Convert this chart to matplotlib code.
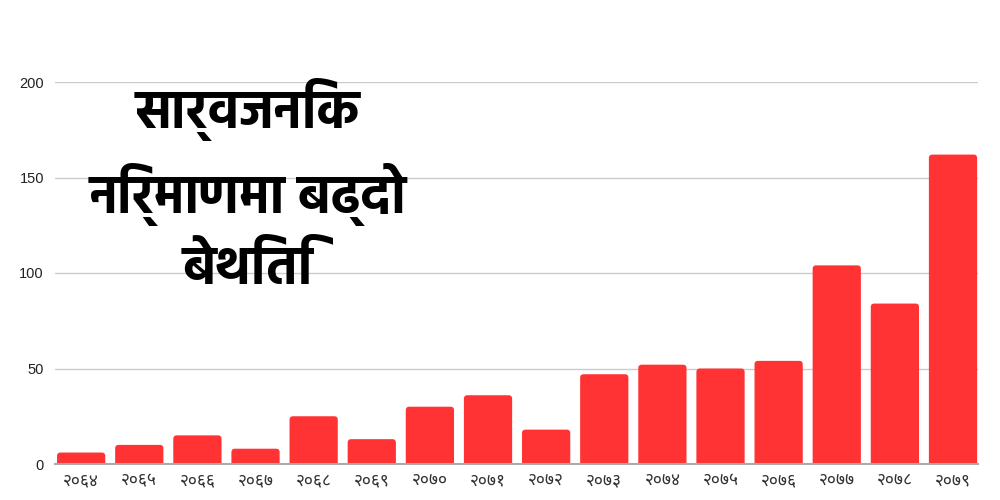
import matplotlib
matplotlib.use("Agg")
import matplotlib.pyplot as plt
from matplotlib import font_manager
from matplotlib.ft2font import FT2Font
from matplotlib.patches import FancyBboxPatch

years = ["२०६४", "२०६५", "२०६६", "२०६७", "२०६८", "२०६९", "२०७०", "२०७१",
         "२०७२", "२०७३", "२०७४", "२०७५", "२०७६", "२०७७", "२०७८", "२०७९"]
values = [6, 10, 15, 8, 25, 13, 30, 36, 18, 47, 52, 50, 54, 104, 84, 162]
yticks = [0, 50, 100, 150, 200]
title = "सार्वजनिक\nनिर्माणमा बढ्दो\nबेथिति"

# families that cover Devanagari
deva = set()
for f in font_manager.fontManager.ttflist:
    try:
        cm = FT2Font(f.fname).get_charmap()
    except Exception:
        continue
    if 0x0938 in cm and 0x096A in cm:
        deva.add(f.name)

def pick(pref):
    c = [p for p in pref if p in deva][:1] or sorted(deva)[:1]
    return c + ["Liberation Sans", "DejaVu Sans"]

title_fams = pick(["Hind", "Poppins", "Mukta", "Noto Sans Devanagari", "Martel Sans",
                   "Biryani", "Amiko", "FreeSans"])
tick_fams = pick(["Noto Sans Devanagari", "Mukta", "Annapurna SIL", "Biryani",
                  "Amiko", "FreeSans"])

fig = plt.figure(figsize=(10, 5), dpi=100)
ax = fig.add_axes([0.055, 0.072, 0.923, 0.764])
x = list(range(len(years)))
bars = ax.bar(x, values, width=0.83, color="#ff3333", zorder=2)
ax.set_xlim(-0.45, 15.43)
ax.set_ylim(0, 200)

# rounded tops: replace each bar by a rounded box of the same geometry
fig.canvas.draw()
bb = ax.get_window_extent()
aspect = (200 / bb.height) / ((15.88) / bb.width)
for b in bars:
    x0, w, h = b.get_x(), b.get_width(), b.get_height()
    b.set_visible(False)
    p = FancyBboxPatch((x0, -6), w, h + 6,
                       boxstyle="round,pad=0,rounding_size=0.06",
                       mutation_aspect=aspect, facecolor="#ff3333",
                       edgecolor="none", zorder=2, clip_on=True)
    ax.add_patch(p)

ax.set_yticks(yticks)
ax.set_yticklabels([str(v) for v in yticks], family=["Liberation Sans", "DejaVu Sans"],
                   fontsize=10.5, color="#222222")
ax.set_xticks(x)
ax.set_xticklabels(years, family=tick_fams, fontsize=12.5, color="#333333")
ax.tick_params(axis="both", length=0)
ax.tick_params(axis="y", pad=8)
ax.tick_params(axis="x", pad=5)
ax.grid(axis="y", color="#cccccc", linewidth=1, zorder=0)
for s in ["left", "right", "top"]:
    ax.spines[s].set_visible(False)
ax.spines["bottom"].set_color("#aaaaaa")
ax.spines["bottom"].set_linewidth(1.5)
ax.spines["bottom"].set_zorder(3)

fig.text(0.248, 0.628, title, family=title_fams, fontsize=38, fontweight="bold",
         ha="center", va="center", color="black", linespacing=1.45, zorder=5)

fig.savefig("out.png", dpi=100, facecolor="white")
